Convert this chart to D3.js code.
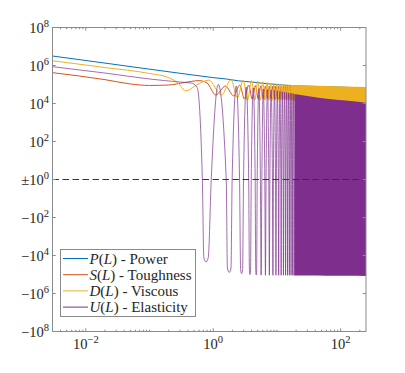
<!DOCTYPE html>
<html><head><meta charset="utf-8">
<script src="https://cdn.jsdelivr.net/npm/d3@7"></script>
<style>body{margin:0;background:#fff}svg{display:block}</style>
</head><body><svg id="c" width="405" height="373"></svg>
<script>
// ---------------- data ----------------
const xDomain = [0.003, 250];
const yTickExps = [8, 6, 4, 2, 0, -2, -4, -6, -8];
const xTickExps = [-2, 0, 2];
const seriesNames = [["P", "Power"], ["S", "Toughness"], ["D", "Viscous"], ["U", "Elasticity"]];
const seriesColors = ["#0072BD", "#D95319", "#EDB120", "#7E2F8E"];

// P(L) - Power
const pL = [0.003, 0.02, 0.1, 0.5, 1.0, 1.6, 2.5, 4.0, 7.0, 12, 25, 60, 250];
const pV = [3.16e6, 1.34e6, 6.4e5, 3.1e5, 2.3e5, 1.95e5, 1.56e5, 1.35e5, 1.1e5, 9.4e4, 8.3e4, 7.6e4, 6.6e4];

// S(L) - Toughness
const sHeadL = [0.003, 0.02, 0.05, 0.1, 0.2, 0.35, 0.6, 0.8];
const sHeadV = [4.2e5, 1.8e5, 1.07e5, 8.9e4, 9.4e4, 1.26e5, 1.6e5, 1.2e5];
const sTroughL = [1.1, 2.1, 3.1, 4.1, 5.1, 6.1, 7.1, 8.1, 9.1, 10.1, 11.1, 12.1, 13.1, 14.1, 15.1, 16.1, 17.1];
const sTroughV = [2.8e4, 2.5e4, 1.7e4, 1.7e4, 1.7e4, 1.8e4, 1.8e4, 1.8e4, 1.8e4, 1.8e4, 1.8e4, 1.8e4, 1.8e4, 1.8e4, 1.8e4, 1.8e4, 1.8e4];
const sPeakL = [1.55, 2.6, 3.6, 4.6, 5.6, 6.6, 7.6, 8.6, 9.6, 10.6, 11.6, 12.6, 13.6, 14.6, 15.6, 16.6, 17.6];
const sPeakV = [8.3e4, 9.4e4, 9.4e4, 8.8e4, 8.6e4, 8.4e4, 8.3e4, 8.2e4, 8.1e4, 8.0e4, 8.0e4, 8.0e4, 8.0e4, 8.0e4, 8.0e4, 8.0e4, 8.0e4];
const sBandL = [17.6, 30, 60, 120, 250];
const sBandTop = [8.0e4, 7.6e4, 7.2e4, 6.8e4, 6.4e4];
const sBandBot = [1.8e4, 1.6e4, 1.4e4, 1.2e4, 1.0e4];

// D(L) - Viscous
const dHeadL = [0.003, 0.02, 0.1, 0.2, 0.28, 0.37, 0.55];
const dHeadV = [1.78e6, 7.8e5, 3.8e5, 2.3e5, 1.2e5, 4.6e4, 9.4e4];
const dPeakL = [0.85, 1.9, 2.95, 4.0, 5.0, 6.0, 7.0, 8.0, 9.0, 10, 11, 12, 13, 14, 15, 16, 17];
const dPeakV = [1.7e5, 1.8e5, 1.7e5, 1.6e5, 1.5e5, 1.4e5, 1.3e5, 1.2e5, 1.15e5, 1.1e5, 1.05e5, 1.0e5, 9.8e4, 9.6e4, 9.5e4, 9.4e4, 9.4e4];
const dTroughL = [1.35, 2.4, 3.45, 4.5, 5.5, 6.5, 7.5, 8.5, 9.5, 10.5, 11.5, 12.5, 13.5, 14.5, 15.5, 16.5];
const dTroughV = [2.8e4, 2.0e4, 1.5e4, 1.5e4, 1.5e4, 1.5e4, 1.5e4, 1.5e4, 1.5e4, 1.5e4, 1.5e4, 1.5e4, 1.5e4, 1.5e4, 1.5e4, 1.5e4];
const dBandL = [17, 30, 60, 120, 250];
const dBandTop = [9.4e4, 8.8e4, 8.3e4, 7.8e4, 7.4e4];
const dBandBot = [1.5e4, 1.2e4, 1.0e4, 9.0e3, 8.0e3];

// U(L) - Elasticity
const uHeadL = [0.003, 0.02, 0.1, 0.3, 0.45, 0.56];
const uHeadV = [8.7e5, 4.0e5, 1.95e5, 1.35e5, 1.2e5, 7.0e4];
const uCrossDownL = [0.675, 1.6, 2.59, 3.6, 4.55, 5.5, 6.45, 7.45, 8.5, 9.5, 10.5, 11.5, 12.5, 13.5, 14.5, 15.5, 16.5, 17.5, 18.5];
const uTroughL = [0.77, 1.78, 2.79, 3.77, 4.72, 5.65, 6.6, 7.6, 8.65, 9.65, 10.65, 11.65, 12.65, 13.65, 14.65, 15.65, 16.65, 17.65, 18.65];
const uTroughV = [-2.2e4, -7.8e4, -9.0e4, -1.0e5, -1.05e5, -1.08e5, -1.1e5, -1.1e5, -1.1e5, -1.1e5, -1.1e5, -1.1e5, -1.1e5, -1.1e5, -1.1e5, -1.1e5, -1.1e5, -1.1e5, -1.1e5];
const uCrossUpL = [0.93, 1.98, 2.99, 3.95, 4.9, 5.8, 6.75, 7.75, 8.8, 9.8, 10.8, 11.8, 12.8, 13.8, 14.8, 15.8, 16.8, 17.8, 18.8];
const uShoulderL = [0.712, 0.835, 1.67, 1.9, 2.69, 2.89, 3.7, 3.85, 4.65, 4.8];
const uShoulderV = [-1.3e4, -1.3e4, -4.6e4, -4.6e4, -5.5e4, -5.5e4, -6.0e4, -6.0e4, -6.5e4, -6.5e4];
const uPeakL = [1.2, 2.3, 3.3, 4.25, 5.2, 6.1, 7.1, 8.1, 9.15, 10.15, 11.15, 12.15, 13.15, 14.15, 15.15, 16.15, 17.15, 18.15];
const uPeakV = [1.0e5, 8.3e4, 7.4e4, 6.6e4, 6.2e4, 5.8e4, 5.5e4, 5.2e4, 4.9e4, 4.6e4, 4.4e4, 4.2e4, 4.0e4, 3.8e4, 3.6e4, 3.5e4, 3.4e4, 3.3e4];
const uBandL = [18.8, 30, 60, 120, 250];
const uBandTop = [3.2e4, 2.5e4, 1.8e4, 1.44e4, 1.1e4];
const uBandBot = [-1.12e5, -1.14e5, -1.16e5, -1.18e5, -1.2e5];

// ---------------- chart ----------------
const svg = d3.select("#c");
const M = {l: 52.5, r: 366, t: 27.5, b: 331.5};
const x = d3.scaleLog().domain(xDomain).range([M.l, M.r]);
const tf = v => Math.sign(v) * Math.log10(Math.max(Math.abs(v), 1));
const yT = d3.scaleLinear().domain([-8, 8]).range([M.b, M.t]);
const y = v => yT(tf(v));

const FONT = "'Liberation Serif', 'DejaVu Serif', serif";
const TXT = "#262626";
const AX = "#8a8a8a";

svg.append("rect").attr("width", 405).attr("height", 373).attr("fill", "#fff");
svg.append("defs").append("clipPath").attr("id", "clip")
  .append("rect").attr("x", M.l).attr("y", M.t).attr("width", M.r - M.l).attr("height", M.b - M.t);

function merge(...groups) {
  const pts = [];
  groups.forEach(([Ls, Vs]) => Ls.forEach((l, i) => pts.push([l, Vs === 0 ? 0 : Vs[i]])));
  return pts.sort((a, b) => a[0] - b[0]);
}
const line = d3.line().x(d => x(d[0])).y(d => y(d[1])).curve(d3.curveMonotoneX);
const area = d3.area().x(d => x(d[0])).y0(d => y(d[2])).y1(d => y(d[1])).curve(d3.curveMonotoneX);
const band = (Ls, T, B) => Ls.map((l, i) => [l, T[i], B[i]]);

const g = svg.append("g").attr("clip-path", "url(#clip)");
const lw = 1;

// P
g.append("path").attr("d", line(merge([pL, pV]))).attr("fill", "none")
  .attr("stroke", seriesColors[0]).attr("stroke-width", lw);
// S
g.append("path").attr("d", area(band(sBandL, sBandTop, sBandBot))).attr("fill", seriesColors[1]);
g.append("path").attr("d", line(merge([sHeadL, sHeadV], [sTroughL, sTroughV], [sPeakL, sPeakV]))).attr("fill", "none")
  .attr("stroke", seriesColors[1]).attr("stroke-width", lw);
// D
g.append("path").attr("d", area(band(dBandL, dBandTop, dBandBot))).attr("fill", seriesColors[2]);
g.append("path").attr("d", line(merge([dHeadL, dHeadV], [dPeakL, dPeakV], [dTroughL, dTroughV]))).attr("fill", "none")
  .attr("stroke", seriesColors[2]).attr("stroke-width", lw);
// U
g.append("path").attr("d", area(band(uBandL, uBandTop, uBandBot))).attr("fill", seriesColors[3]);
g.append("path").attr("d", line(merge([uHeadL, uHeadV], [uCrossDownL, 0], [uShoulderL, uShoulderV], [uTroughL, uTroughV], [uCrossUpL, 0], [uPeakL, uPeakV])))
  .attr("fill", "none").attr("stroke", seriesColors[3]).attr("stroke-width", lw).attr("stroke-opacity", 0.7);

// dashed ±1 line
svg.append("line").attr("x1", M.l).attr("x2", M.r).attr("y1", y(1)).attr("y2", y(1))
  .attr("stroke", "#333").attr("stroke-width", 1.2).attr("stroke-dasharray", "6.5,3.5");

// axes box
const ax = svg.append("g").attr("stroke", AX).attr("stroke-width", 1).attr("fill", "none");
ax.append("rect").attr("x", M.l).attr("y", M.t).attr("width", M.r - M.l).attr("height", M.b - M.t);

// y ticks
yTickExps.forEach(e => {
  const yy = yT(e);
  ax.append("line").attr("x1", M.l).attr("x2", M.l + 3.2).attr("y1", yy).attr("y2", yy);
  ax.append("line").attr("x1", M.r).attr("x2", M.r - 3.2).attr("y1", yy).attr("y2", yy);
  const t = svg.append("text").attr("x", 49).attr("y", yy + 5).attr("text-anchor", "end")
    .attr("font-family", FONT).attr("font-size", 14.5).attr("fill", TXT);
  const pre = e > 0 ? "" : (e === 0 ? "\u00B1" : "\u2212");
  t.append("tspan").text(pre + "10");
  t.append("tspan").attr("dy", -6).attr("font-size", 10.5).text(Math.abs(e));
});

// x ticks
const [lo, hi] = xDomain;
for (let d = Math.floor(Math.log10(lo)); d <= Math.ceil(Math.log10(hi)); d++) {
  for (let mlt = 1; mlt <= 9; mlt++) {
    const v = mlt * Math.pow(10, d);
    if (v < lo || v > hi) continue;
    const major = mlt === 1 && xTickExps.includes(d);
    const len = major ? 3.2 : 1.8;
    const xx = x(v);
    ax.append("line").attr("x1", xx).attr("x2", xx).attr("y1", M.b).attr("y2", M.b - len);
    ax.append("line").attr("x1", xx).attr("x2", xx).attr("y1", M.t).attr("y2", M.t + len);
  }
}
xTickExps.forEach(e => {
  const t = svg.append("text").attr("x", x(Math.pow(10, e))).attr("y", 349).attr("text-anchor", "middle")
    .attr("font-family", FONT).attr("font-size", 14.5).attr("fill", TXT);
  t.append("tspan").text("10");
  t.append("tspan").attr("dy", -6).attr("font-size", 10.5).text(e < 0 ? "\u2212" + Math.abs(e) : e);
});

// legend
const L = {x: 60, y: 249.5, w: 135, h: 67};
const lg = svg.append("g");
lg.append("rect").attr("x", L.x + 0.5).attr("y", L.y).attr("width", L.w).attr("height", L.h)
  .attr("fill", "#fff").attr("stroke", AX).attr("stroke-width", 1);
seriesNames.forEach(([sym, word], i) => {
  const yy = L.y + 9 + i * 16.2;
  lg.append("line").attr("x1", L.x + 3).attr("x2", L.x + 28).attr("y1", yy).attr("y2", yy)
    .attr("stroke", seriesColors[i]).attr("stroke-width", 1);
  const t = lg.append("text").attr("x", L.x + 29.5).attr("y", yy + 5)
    .attr("font-family", FONT).attr("font-size", 15).attr("fill", TXT);
  t.append("tspan").attr("font-style", "italic").text(sym);
  t.append("tspan").text("(");
  t.append("tspan").attr("font-style", "italic").text("L");
  t.append("tspan").text(") - " + word);
});
</script></body></html>
